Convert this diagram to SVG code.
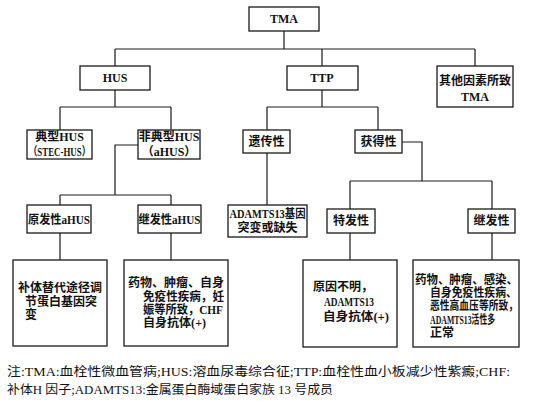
<svg xmlns="http://www.w3.org/2000/svg" width="537" height="412" viewBox="0 0 537 412">
<style>
.b{fill:#fff;stroke:#1a1a1a;stroke-width:1.3}
.c{fill:none;stroke:#1a1a1a;stroke-width:1.2}
text{font-family:"Liberation Serif","Noto Sans CJK SC",serif;font-size:12px;fill:#111;font-weight:bold}
.m{text-anchor:middle}
.f{font-weight:normal;font-size:12.5px}
</style>
<rect width="537" height="412" fill="#fff"/>
<g id="connectors">
<path class="c" d="M284 31V49M115 49H475M115 49V66M322 49V66M475 49V66"/>
<path class="c" d="M115 90V107M60 107H171M60 107V130M171 107V130"/>
<path class="c" d="M138 145H115V195M60 195H171M60 195V205M171 195V205"/>
<path class="c" d="M60 233V260M171 233V260"/>
<path class="c" d="M322 90V107M267 107H378M267 107V130M378 107V130"/>
<path class="c" d="M267 153V205"/>
<path class="c" d="M402 142H422V181M350 181H492M350 181V209M492 181V209"/>
<path class="c" d="M350 233V260M492 233V260"/>
</g>
<g id="tma"><rect class="b" x="249" y="7" width="70" height="24"/><text class="m" x="284" y="23">TMA</text></g>
<g id="hus"><rect class="b" x="80" y="66" width="70" height="24"/><text class="m" x="115" y="82">HUS</text></g>
<g id="ttp"><rect class="b" x="287" y="66" width="71" height="24"/><text class="m" x="322" y="82">TTP</text></g>
<g id="other"><rect class="b" x="437" y="66" width="76" height="41"/><text class="m" x="475" y="85">其他因素所致</text><text class="m" x="475" y="101">TMA</text></g>
<g id="typical-hus"><rect class="b" x="27" y="130" width="65" height="29"/><text class="m" x="59.5" y="141">典型HUS</text><text class="m" x="59.5" y="156" textLength="62" lengthAdjust="spacingAndGlyphs">（STEC-HUS）</text></g>
<g id="ahus"><rect class="b" x="138" y="130" width="62" height="29"/><text class="m" x="169" y="141">非典型HUS</text><text class="m" x="169" y="156">（aHUS）</text></g>
<g id="primary-ahus"><rect class="b" x="27" y="205" width="64" height="28"/><text class="m" x="59" y="224" textLength="62" lengthAdjust="spacingAndGlyphs">原发性aHUS</text></g>
<g id="secondary-ahus"><rect class="b" x="138" y="205" width="63" height="28"/><text class="m" x="169.5" y="224" textLength="62" lengthAdjust="spacingAndGlyphs">继发性aHUS</text></g>
<g id="hereditary"><rect class="b" x="243" y="130" width="47" height="23"/><text class="m" x="266.5" y="146">遗传性</text></g>
<g id="acquired"><rect class="b" x="355" y="130" width="47" height="23"/><text class="m" x="378.5" y="146">获得性</text></g>
<g id="adamts-mut"><rect class="b" x="228" y="205" width="79" height="32"/><text class="m" x="267.5" y="218" textLength="76" lengthAdjust="spacingAndGlyphs">ADAMTS13基因</text><text class="m" x="267.5" y="232">突变或缺失</text></g>
<g id="idiopathic"><rect class="b" x="327" y="209" width="48" height="24"/><text class="m" x="351" y="225">特发性</text></g>
<g id="secondary"><rect class="b" x="468" y="209" width="47" height="24"/><text class="m" x="491.5" y="225">继发性</text></g>
<g id="box-primary"><rect class="b" x="13" y="260" width="94" height="86"/>
<text x="18" y="292" textLength="84" lengthAdjust="spacingAndGlyphs">补体替代途径调</text>
<text x="25" y="306" textLength="72" lengthAdjust="spacingAndGlyphs">节蛋白基因突</text>
<text x="25" y="319">变</text></g>
<g id="box-secondary-ahus"><rect class="b" x="124" y="260" width="104" height="86"/>
<text x="128" y="287" textLength="96" lengthAdjust="spacingAndGlyphs">药物、肿瘤、自身</text>
<text x="143" y="301" textLength="81" lengthAdjust="spacingAndGlyphs">免疫性疾病，妊</text>
<text x="143" y="314" textLength="80" lengthAdjust="spacingAndGlyphs">娠等所致，CHF</text>
<text x="143" y="327" textLength="63" lengthAdjust="spacingAndGlyphs">自身抗体(+)</text></g>
<g id="box-idiopathic"><rect class="b" x="303" y="260" width="94" height="87"/>
<text x="313" y="291">原因不明，</text>
<text x="324" y="306" textLength="50" lengthAdjust="spacingAndGlyphs">ADAMTS13</text>
<text x="323" y="321" textLength="66" lengthAdjust="spacingAndGlyphs">自身抗体(+)</text></g>
<g id="box-secondary"><rect class="b" x="413" y="260" width="106" height="87"/>
<text x="415" y="284" textLength="103" lengthAdjust="spacingAndGlyphs">药物、肿瘤、感染、</text>
<text x="430" y="297" textLength="87" lengthAdjust="spacingAndGlyphs">自身免疫性疾病、</text>
<text x="430" y="310" textLength="88" lengthAdjust="spacingAndGlyphs">恶性高血压等所致，</text>
<text x="430" y="324" textLength="65" lengthAdjust="spacingAndGlyphs">ADAMTS13活性多</text>
<text x="430" y="337">正常</text></g>
<text class="f" x="7" y="376" textLength="503" lengthAdjust="spacingAndGlyphs">注:TMA:血栓性微血管病;HUS:溶血尿毒综合征;TTP:血栓性血小板减少性紫癜;CHF:</text>
<text class="f" x="7" y="394" textLength="326" lengthAdjust="spacingAndGlyphs">补体H 因子;ADAMTS13:金属蛋白酶域蛋白家族 13 号成员</text>
</svg>
